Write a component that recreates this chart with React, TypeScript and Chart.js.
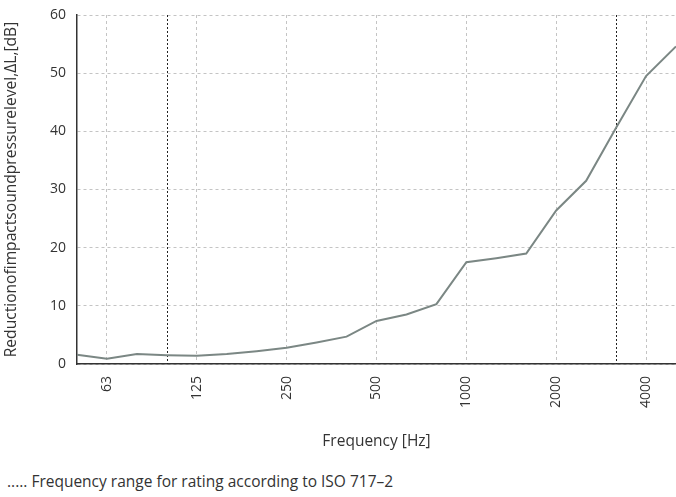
import React, { useEffect, useRef } from 'react';
import { Chart, registerables } from 'chart.js';

Chart.register(...registerables);

const frequencies = ['50', '63', '80', '100', '125', '160', '200', '250', '315', '400', '500', '630', '800', '1000', '1250', '1600', '2000', '2500', '3150', '4000', '5000'];
const reduction = [1.6, 0.9, 1.7, 1.5, 1.4, 1.7, 2.2, 2.8, 3.7, 4.7, 7.4, 8.5, 10.3, 17.5, 18.2, 19.0, 26.4, 31.5, 40.6, 49.5, 54.6];
const shownTicks = ['63', '125', '250', '500', '1000', '2000', '4000'];
const ratingRange = ['100', '3150'];
const yMin = 0;
const yMax = 60;
const yStep = 10;

const FONT = "'Open Sans', sans-serif";
const TEXT = '#333333';

const ratingLines = {
  id: 'ratingLines',
  beforeDatasetsDraw(chart: any) {
    const { ctx, chartArea, scales } = chart;
    const x = scales.x;
    ctx.save();
    ctx.strokeStyle = '#222222';
    ctx.lineWidth = 1;
    ctx.setLineDash([2, 2]);
    ratingRange.forEach((f) => {
      const px = Math.round(x.getPixelForValue(frequencies.indexOf(f))) + 0.5;
      ctx.beginPath();
      ctx.moveTo(px, chartArea.top);
      ctx.lineTo(px, chartArea.bottom);
      ctx.stroke();
    });
    ctx.restore();
  },
};

export default function App() {
  const canvasRef = useRef<HTMLCanvasElement | null>(null);

  useEffect(() => {
    const canvas = canvasRef.current;
    if (!canvas) return;
    const chart = new Chart(canvas, {
      type: 'line',
      data: {
        labels: frequencies,
        datasets: [
          {
            data: reduction,
            borderColor: '#7b8784',
            borderWidth: 2,
            pointRadius: 0,
            tension: 0,
            fill: false,
          },
        ],
      },
      plugins: [ratingLines],
      options: {
        animation: false,
        responsive: false,
        maintainAspectRatio: false,
        layout: { padding: { top: 15, right: 0, left: 0, bottom: 0 } },
        plugins: {
          legend: { display: false },
          tooltip: { enabled: false },
        },
        scales: {
          x: {
            type: 'category',
            offset: false,
            afterFit: (scale: any) => {
              scale.height = 96;
              scale.paddingLeft = 0;
              scale.paddingRight = 0;
            },
            grid: {
              color: (ctx: any) =>
                shownTicks.includes(frequencies[ctx.index]) ? '#c4c4c4' : 'rgba(0,0,0,0)',
              drawTicks: false,
              lineWidth: 1,
            },
            border: { display: true, color: '#333333', width: 1.5, dash: [3, 3] },
            ticks: {
              autoSkip: false,
              minRotation: 90,
              maxRotation: 90,
              padding: 12,
              color: TEXT,
              font: { family: FONT, size: 14 },
              callback: (_v: any, i: number) =>
                shownTicks.includes(frequencies[i]) ? frequencies[i] : '',
            },
            title: {
              display: true,
              text: 'Frequency [Hz]',
              color: TEXT,
              font: { family: FONT, size: 15.5 },
              padding: { top: 0, bottom: 9 },
            },
          },
          y: {
            min: yMin,
            max: yMax,
            afterFit: (scale: any) => {
              scale.width = 77;
              scale.paddingTop = 0;
              scale.paddingBottom = 0;
            },
            grid: { color: '#c4c4c4', drawTicks: false, lineWidth: 1 },
            border: { display: true, color: '#333333', width: 1.5, dash: [3, 3] },
            ticks: {
              stepSize: yStep,
              padding: 11,
              color: TEXT,
              font: { family: FONT, size: 14 },
            },
            title: {
              display: true,
              text: 'Reductionofimpactsoundpressurelevel,ΔL,[dB]',
              color: TEXT,
              font: { family: FONT, size: 15.6 },
              padding: { top: 2, bottom: 0 },
            },
          },
        },
      },
    } as any);
    return () => chart.destroy();
  }, []);

  return (
    <div style={{ position: 'absolute', left: 0, top: 0, width: 676, height: 497, background: '#ffffff' }}>
      <canvas ref={canvasRef} width={676} height={460} style={{ display: 'block', width: 676, height: 460 }} />
      <div
        style={{
          position: 'absolute',
          left: 7,
          top: 471,
          fontFamily: FONT,
          fontSize: 15.5,
          color: TEXT,
          whiteSpace: 'nowrap',
          lineHeight: '20px',
        }}
      >
        ..... Frequency range for rating according to ISO 717–2
      </div>
    </div>
  );
}
